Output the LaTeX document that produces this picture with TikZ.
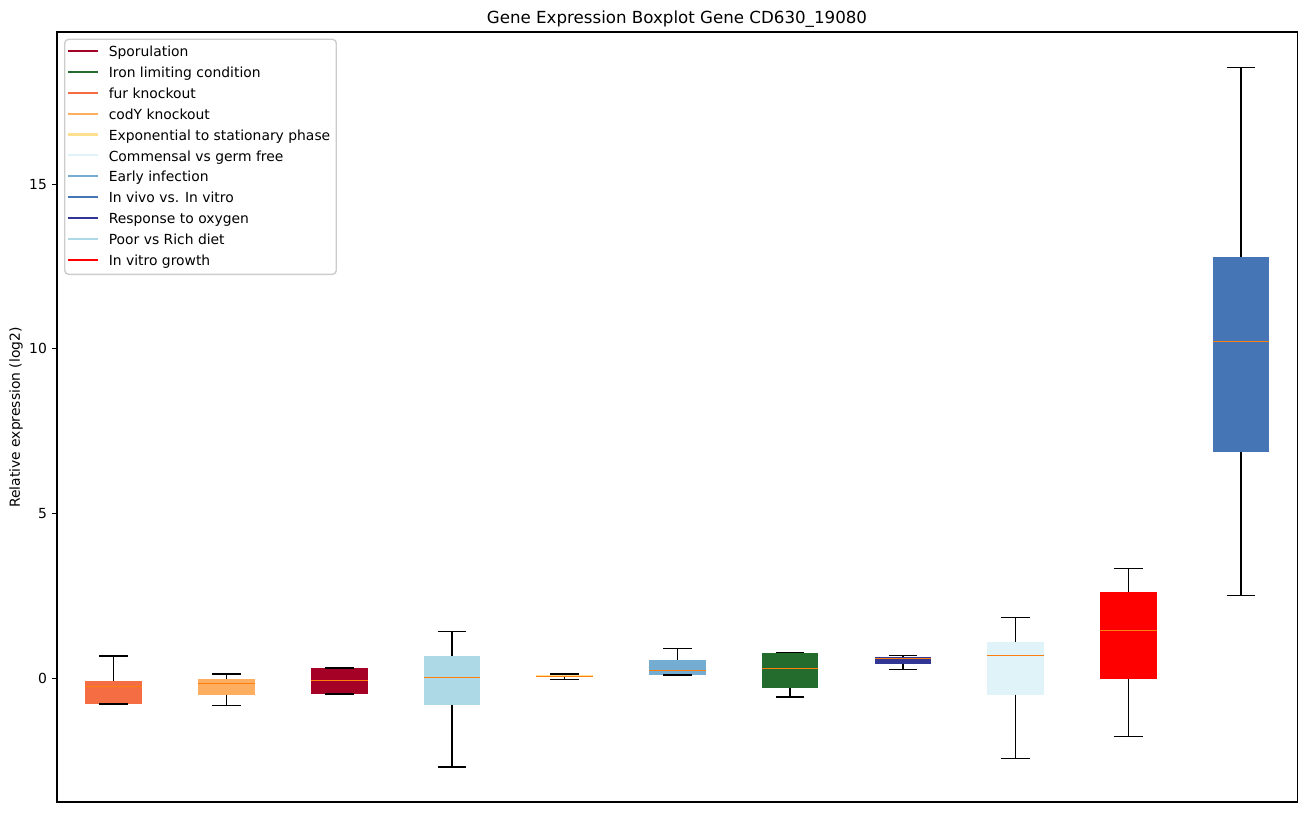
\documentclass[tikz,border=0pt]{standalone}
\usepackage{fontspec}
\setmainfont{DejaVu Sans}
\usetikzlibrary{positioning}
\definecolor{sporc}{HTML}{A50026}
\definecolor{ironc}{HTML}{246C2E}
\definecolor{furc}{HTML}{F46D43}
\definecolor{codyc}{HTML}{FDAE61}
\definecolor{expc}{HTML}{FEE090}
\definecolor{commc}{HTML}{E0F3F8}
\definecolor{earlyc}{HTML}{74ADD1}
\definecolor{vivoc}{HTML}{4575B4}
\definecolor{oxyc}{HTML}{313695}
\definecolor{dietc}{HTML}{ADD8E6}
\definecolor{growc}{HTML}{FF0000}
\definecolor{medc}{HTML}{FF7F0E}
\definecolor{legc}{HTML}{CCCCCC}
\tikzset{whisk/.style={line width=1pt,black}, medline/.style={line width=1pt,medc}, legline/.style={line width=1.5pt}}

\begin{document}
\begin{tikzpicture}[x=0.72pt, y=-0.72pt, every node/.style={inner sep=0pt, font=\fontsize{10}{12}\selectfont}]
\useasboundingbox (0,0) rectangle (1306,812);
\fill[white] (0,0) rectangle (1306,812);
\foreach \x/\wl/\qa/\md/\qb/\wh/\col in {113.5/704/704/686.3/680.7/656/furc, 226.3/705.3/694.7/683.3/679/674/codyc, 339.5/694/694/680.3/668/668/sporc, 452/767/704.7/677.3/656/631.3/dietc, 564.5/679.3/677.3/676.3/675.3/674/expc, 677.5/675/674.7/670.3/660/648.3/earlyc, 790/697/687.7/668.3/652.7/652.7/ironc, 903/669.3/663.7/658.3/657/655.3/oxyc, 1015.5/758.3/694.7/655.3/642/617.3/commc, 1128.5/736.3/678.7/630.3/592/568.3/growc, 1241/595.3/452/341.3/256.7/67.3/vivoc} {
  \fill[\col] (\x-28.4,\qa) rectangle (\x+28.4,\qb);
  \draw[whisk] (\x,\qa) -- (\x,\wl) (\x-14.2,\wl) -- (\x+14.2,\wl);
  \draw[whisk] (\x,\qb) -- (\x,\wh) (\x-14.2,\wh) -- (\x+14.2,\wh);
  \draw[medline] (\x-28.4,\md) -- (\x+28.4,\md);
}
\draw[line width=0.8pt] (57,32) rectangle (1297.4,802);
\foreach \v/\yy in {0/678.3, 5/513.6, 10/348.9, 15/184.2} {
  \draw[line width=0.8pt] (52.1,\yy) -- (57,\yy);
  \node (tick\v) at (47.2,\yy) [anchor=east] {\v};
}
\node (ylab) at (16,417.5) [rotate=90] {Relative expression (log2)};
\node (title) at (677,23.7) [anchor=base, font=\fontsize{12}{14}\selectfont] {Gene Expression Boxplot Gene CD630\_19080};
\draw[legc, fill=white, line width=1pt, rounded corners=2.8] (64.7,39.3) rectangle (336.3,274.3);
\foreach \i/\col/\lab in {0/sporc/Sporulation, 1/ironc/Iron limiting condition, 2/furc/fur knockout, 3/codyc/codY knockout, 4/expc/Exponential to stationary phase, 5/commc/Commensal vs germ free, 6/earlyc/Early infection, 7/vivoc/In vivo vs. In vitro, 8/oxyc/Response to oxygen, 9/dietc/Poor vs Rich diet, 10/growc/In vitro growth} {
  \pgfmathsetmacro\yy{51+20.87*\i}
  \draw[legline,\col] (68.3,\yy) -- (97.7,\yy);
  \node (leg\i) at (108.5,\yy+5.7) [anchor=base west] {\lab};
}
\end{tikzpicture}
\end{document}
